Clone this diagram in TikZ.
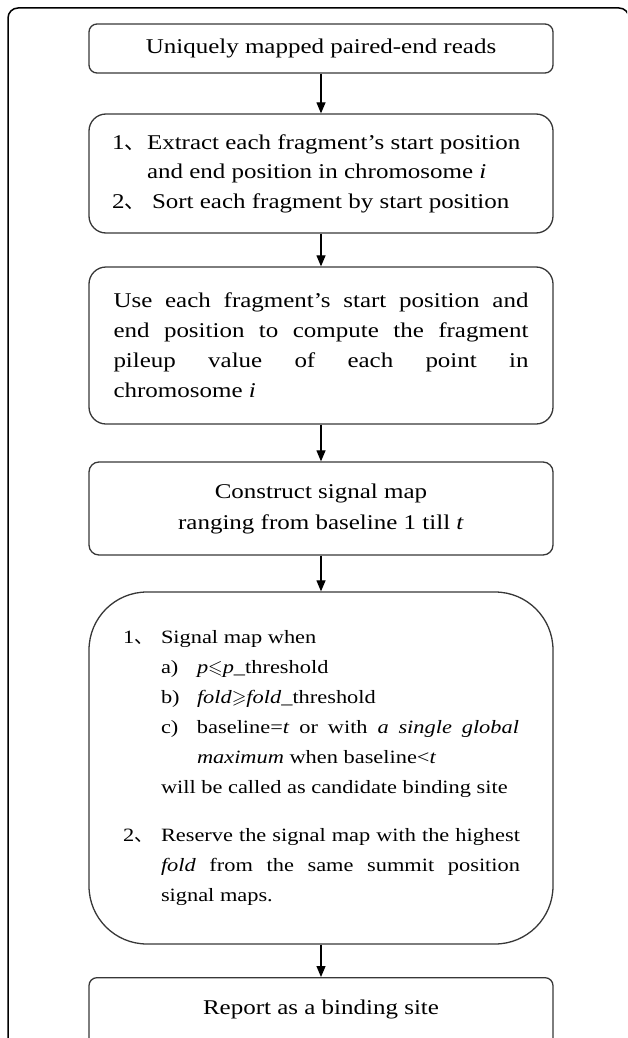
\documentclass[tikz,border=0pt]{standalone}
\usepackage{amssymb}
\usepackage{fontspec}
\setmainfont{Liberation Serif}[FakeStretch=1.19]
\newfontfamily\cjk{Noto Sans CJK SC}
\usetikzlibrary{arrows.meta}
\definecolor{boxline}{RGB}{55,55,55}
\tikzset{
  box/.style={draw=boxline, line width=1.3pt, minimum width=464pt,
    font=\fontsize{21}{29.5}\selectfont},
  arr/.style={line width=1.2pt, -{Triangle[width=9pt,length=11pt]}},
}
\newcommand{\dun}{{\cjk 、}}
\newcommand{\jl}[2]{\makebox[#1][s]{#2}}
\begin{document}
\begin{tikzpicture}[x=1pt,y=1pt]
\useasboundingbox (0,0) rectangle (627,-1038);
\clip (0,0) rectangle (627,-1038);
\draw[line width=1.5pt, rounded corners=10pt] (8,-8) rectangle (629,-1070);

\node[box, rounded corners=8pt, minimum height=49pt, align=center] (b1) at (321,-48.5)
  {Uniquely mapped paired-end reads};

\node[box, rounded corners=17pt, minimum height=119pt, inner xsep=0pt,
  font=\fontsize{21}{29.5}\selectfont] (b2) at (321,-173.5)
  {\raisebox{-4pt}{\parbox{418pt}{\raggedright
   \makebox[35pt][l]{1\dun}Extract each fragment’s start position\\
   \hspace*{35pt}and end position in chromosome \textit{i}\\
   \makebox[40pt][l]{2\dun}Sort each fragment by start position}}};

\node[box, rounded corners=17pt, minimum height=157pt, inner xsep=0pt,
  font=\fontsize{21}{30}\selectfont] (b3) at (321,-345.5)
  {\parbox{415pt}{\raggedright
   \jl{415pt}{Use each fragment’s start position and}\\
   \jl{415pt}{end position to compute the fragment}\\
   \jl{415pt}{pileup value of each point in}\\
   chromosome \textit{i}}};

\node[box, rounded corners=10pt, minimum height=93pt, inner xsep=0pt,
  font=\fontsize{21}{31}\selectfont] (b4) at (321,-508.5)
  {\raisebox{-2pt}{\parbox{464pt}{\centering
   Construct signal map\\ ranging from baseline 1 till \textit{t}}}};

\node[box, rounded corners=58pt, minimum height=352pt, inner xsep=0pt,
  font=\fontsize{18.8}{30}\selectfont] (b5) at (321,-768)
  {\raisebox{-3pt}{\parbox{396pt}{\raggedright
   \makebox[38pt][l]{1\dun}Signal map when\\
   \hspace*{38pt}\makebox[36pt][l]{a)}\textit{p}$\leqslant$\textit{p}\_threshold\\
   \hspace*{38pt}\makebox[36pt][l]{b)}\textit{fold}$\geqslant$\textit{fold}\_threshold\\
   \hspace*{38pt}\makebox[36pt][l]{c)}\jl{322pt}{baseline=\textit{t} or with \textit{a single global}}\\
   \hspace*{74pt}\textit{maximum} when baseline<\textit{t}\\
   \hspace*{38pt}will be called as candidate binding site\\[18pt]
   \makebox[38pt][l]{2\dun}\jl{359pt}{Reserve the signal map with the highest}\\
   \hspace*{38pt}\jl{359pt}{\textit{fold} from the same summit position}\\
   \hspace*{38pt}signal maps.}}};

\node[box, rounded corners=8pt, anchor=north, align=center, inner ysep=19pt,
  text height=18pt, text depth=60pt] (b6) at (321,-977)
  {Report as a binding site};

\draw[arr] (b1.south) -- (b2.north);
\draw[arr] (b2.south) -- (b3.north);
\draw[arr] (b3.south) -- (b4.north);
\draw[arr] (b4.south) -- (b5.north);
\draw[arr] (b5.south) -- (b6.north);
\end{tikzpicture}
\end{document}
